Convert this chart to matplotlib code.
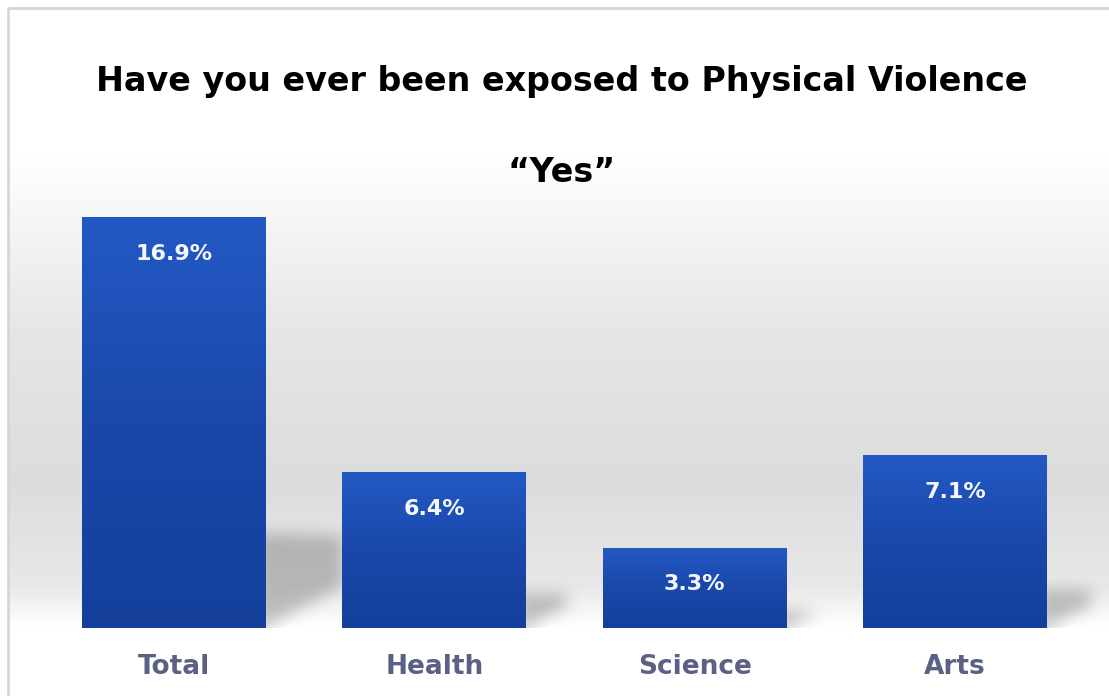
import numpy as np
import matplotlib.pyplot as plt
from matplotlib.colors import LinearSegmentedColormap
from matplotlib.patches import Rectangle
from matplotlib.path import Path

categories = ['Total', 'Health', 'Science', 'Arts']
values = [16.9, 6.4, 3.3, 7.1]
labels = ['16.9%', '6.4%', '3.3%', '7.1%']

W, H = 1109, 696
fig = plt.figure(figsize=(W / 100, H / 100), dpi=100)

# background: white panel with a soft grey band behind the bars
bg = fig.add_axes([0, 0, 1, 1], zorder=0)
bg.set_xlim(0, W)
bg.set_ylim(H, 0)
bg.axis('off')
stops = [(0, 1.0), (150, 1.0), (330, 0.9), (480, 0.865), (585, 0.91), (625, 1.0), (H, 1.0)]
ys = np.arange(H)
lev = np.interp(ys, [s[0] for s in stops], [s[1] for s in stops])
img = np.repeat(lev[:, None], 2, axis=1)
bg.imshow(np.dstack([img, img, img]), extent=[8, W, H, 8], aspect='auto', interpolation='bilinear')
bg.add_patch(Rectangle((8, 8), W, H, fill=False, edgecolor='#d6d6d6', lw=2))

xlim = (-0.5, 3.7)
px_per_unit = 260.5
ax_px = (43.5, 200, (xlim[1] - xlim[0]) * px_per_unit, 428)  # left, top, width, height in pixels
ax = fig.add_axes([ax_px[0] / W, (H - ax_px[1] - ax_px[3]) / H, ax_px[2] / W, ax_px[3] / H], zorder=1)
ax.patch.set_alpha(0)
ylim = (0, ax_px[3] / 24.3)
for s in ax.spines.values():
    s.set_visible(False)
ax.set_xticks([])
ax.set_yticks([])

x = np.arange(len(categories))
width = 0.705
bars = ax.bar(x, values, width=width, color='#1c4cb4', zorder=3)

# blurred drop shadows to the right of each bar (built on a pixel grid)
pw, ph = int(ax_px[2]), int(ax_px[3])
ux = (xlim[1] - xlim[0]) / pw
uy = (ylim[1] - ylim[0]) / ph
gx, gy = np.meshgrid(np.arange(pw) + 0.5, np.arange(ph) + 0.5)
pts = np.column_stack([gx.ravel(), gy.ravel()])
mask = np.zeros(ph * pw)
for xi, v in zip(x, values):
    r = (xi + width / 2 - xlim[0]) / ux
    hb = v / uy
    hs = 0.235 * hb
    L = 0.6 * hs + 20
    poly = Path([(r - 8, -2), (r - 8, hs), (r + L, hs * 0.97), (r + L, min(0.55 * L, hs * 0.9))])
    mask = np.maximum(mask, poly.contains_points(pts).astype(float))
mask = mask.reshape(ph, pw)
k = 7
for _ in range(3):
    c = np.cumsum(np.pad(mask, ((0, 0), (k, k)), mode='edge'), axis=1)
    mask = (c[:, 2 * k:] - c[:, :-2 * k]) / (2 * k)
    mask = np.pad(mask, ((0, 0), (0, pw - mask.shape[1])), mode='edge')
    c = np.cumsum(np.pad(mask, ((k, k), (0, 0)), mode='edge'), axis=0)
    mask = (c[2 * k:, :] - c[:-2 * k, :]) / (2 * k)
    mask = np.pad(mask, ((0, ph - mask.shape[0]), (0, 0)), mode='edge')
rgba = np.zeros((ph, pw, 4))
rgba[..., :3] = 0.45
rgba[..., 3] = np.clip(mask * 0.42, 0, 1)
ax.imshow(rgba, origin='lower', aspect='auto', extent=[xlim[0], xlim[1], ylim[0], ylim[1]], zorder=2)

# vertical gradient on bars
cmap = LinearSegmentedColormap.from_list('b', ['#14409c', '#1a48aa', '#2359c4'])
grad = np.linspace(0, 1, 256)[:, None]
for b in bars:
    bx, by = b.get_x(), b.get_y()
    bw, bh = b.get_width(), b.get_height()
    im = ax.imshow(grad, cmap=cmap, origin='lower', aspect='auto',
                   extent=[bx, bx + bw, by, by + bh], zorder=4)
    im.set_clip_path(b)
    b.set_facecolor('none')

ax.set_xlim(*xlim)
ax.set_ylim(*ylim)

for xi, v, lab in zip(x, values, labels):
    ax.text(xi, v - 1.5, lab, ha='center', va='center', color='#f4f6fb',
            fontsize=16, fontweight='bold', zorder=5)
    ax.text(xi, -1.6, categories[xi], ha='center', va='center', color='#5b6185',
            fontsize=19, fontweight='bold', zorder=5, clip_on=False,
            bbox=dict(boxstyle='square,pad=0.35', facecolor='white', edgecolor='none', alpha=0.7))

fig.text(562 / W, 1 - 82 / H, 'Have you ever been exposed to Physical Violence',
         ha='center', va='center', fontsize=24, fontweight='bold', color='black')
fig.text(562 / W, 1 - 172 / H, '\u201cYes\u201d', ha='center', va='center',
         fontsize=24, fontweight='bold', color='black')

fig.savefig('out.png', dpi=100)
